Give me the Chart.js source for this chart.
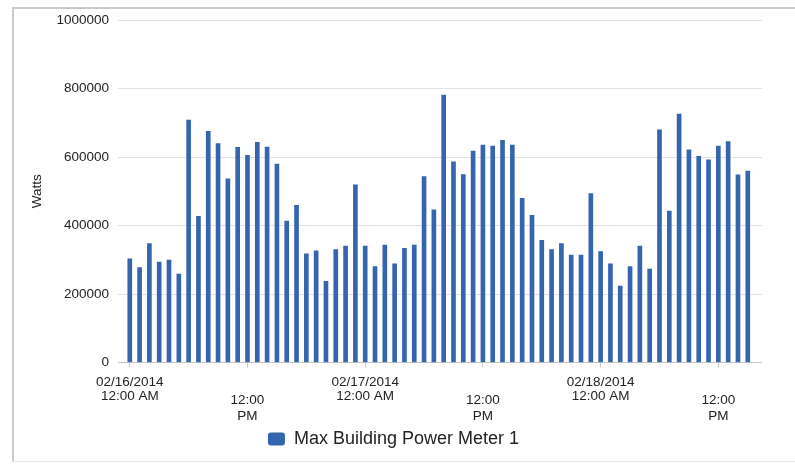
<!DOCTYPE html>
<html>
<head>
<meta charset="utf-8">
<script src="https://cdn.jsdelivr.net/npm/chart.js@4"></script>
<style>
  html, body { margin:0; padding:0; background:#fff; }
  #wrap  { position:relative; width:795px; height:465px; overflow:hidden; }
  #frame { position:absolute; left:12px; top:7px; width:790px; height:452px;
           border-left:2px solid #c9c9c9; border-top:2px solid #c9c9c9; border-bottom:1px solid #e8e8e8; }
  #chart { position:absolute; left:0; top:0; }
</style>
</head>
<body>
<div id="wrap">
  <div id="frame"></div>
  <canvas id="chart" width="795" height="465"></canvas>
</div>
<script>
'use strict';

// ── data: hourly max power, 02/16/2014 00:00 → 02/18/2014 15:00
const seriesName = 'Max Building Power Meter 1';
const watts = [
  303000, 277000, 347000, 293000, 299000, 258000, 708000, 427000, 675000, 639000,
  536000, 628000, 605000, 643000, 629000, 579000, 413000, 459000, 317000, 326000,
  237000, 330000, 340000, 519000, 340000, 280000, 343000, 288000, 333000, 343000,
  543000, 446000, 781000, 586000, 549000, 617000, 635000, 632000, 649000, 635000,
  479000, 430000, 357000, 330000, 347000, 314000, 314000, 493000, 324000, 288000,
  223000, 280000, 340000, 273000, 679000, 442000, 725000, 621000, 602000, 592000,
  632000, 645000, 548000, 559000
];
const tickHours  = [0, 12, 24, 36, 48, 60];
const tickLabels = [
  ['02/16/2014', '12:00 AM'], ['', '12:00', 'PM'],
  ['02/17/2014', '12:00 AM'], ['', '12:00', 'PM'],
  ['02/18/2014', '12:00 AM'], ['', '12:00', 'PM']
];
const yTicks = [0, 200000, 400000, 600000, 800000, 1000000];

const FONT = "'Liberation Sans', Arial, sans-serif";
const points = watts.map((w, h) => ({ x: h, y: w }));

new Chart(document.getElementById('chart'), {
  type: 'bar',
  data: {
    datasets: [{
      label: seriesName,
      data: points,
      backgroundColor: '#3565ae',
      borderWidth: 0,
      barThickness: 4
    }]
  },
  options: {
    responsive: false,
    animation: false,
    devicePixelRatio: 1,
    layout: { padding: { left: 25, right: 33, top: 20, bottom: 7 } },
    plugins: {
      tooltip: { enabled: false },
      legend: {
        position: 'bottom',
        labels: {
          color: '#222',
          font: { family: FONT, size: 18 },
          boxWidth: 17, boxHeight: 13,
          useBorderRadius: true, borderRadius: 3,
          padding: 10
        }
      }
    },
    scales: {
      x: {
        type: 'linear',
        offset: false,
        min: -1.2, max: 64.45,
        afterBuildTicks: s => { s.ticks = tickHours.map(v => ({ value: v })); },
        afterFit: s => { s.height = 57.5; },
        border: { display: false },
        grid: { offset: false, drawOnChartArea: false, drawTicks: true, tickLength: 5, color: '#c8c8c8' },
        ticks: {
          maxRotation: 0, autoSkip: false, padding: 7,
          color: '#222',
          // noon labels sit a little lower than the date labels
          font: c => ({ family: FONT, size: 13.5,
                        lineHeight: c.tick && c.tick.value % 24 === 12 ? 1.25 : 1.1 }),
          callback: v => tickLabels[tickHours.indexOf(v)] || ''
        }
      },
      y: {
        min: 0, max: 1000000,
        afterBuildTicks: s => { s.ticks = yTicks.map(v => ({ value: v })); },
        afterFit: s => { s.width = 93; },
        border: { display: false },
        grid: {
          drawTicks: false,
          color: c => c.tick && c.tick.value === 0 ? '#c4c4c4' : '#e2e0e0'
        },
        ticks: {
          padding: 9, color: '#222',
          font: { family: FONT, size: 13.5 },
          callback: v => String(v)
        },
        title: {
          display: true, text: 'Watts', color: '#222',
          font: { family: FONT, size: 13.5 },
          padding: { top: 4, bottom: 0 }
        }
      }
    }
  }
});
</script>
</body>
</html>
